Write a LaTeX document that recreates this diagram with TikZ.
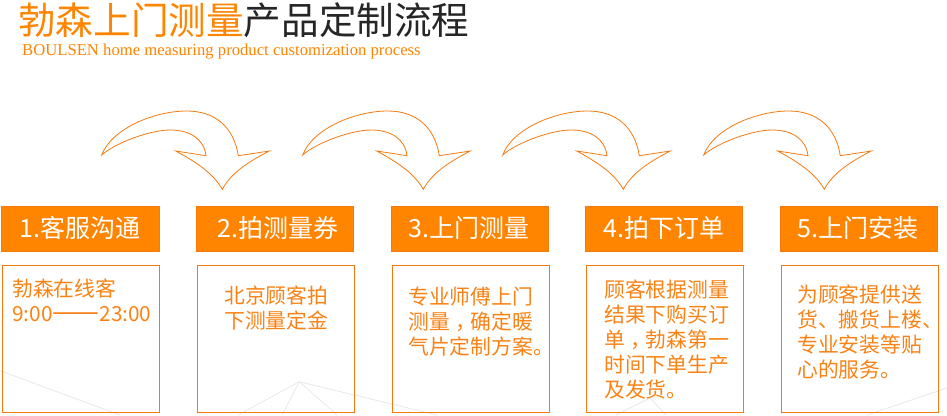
\documentclass[tikz,border=0pt]{standalone}
\usepackage{fontspec}
\setmainfont{Noto Sans CJK SC}
\newfontfamily\subfont{Liberation Serif}
\definecolor{boxorange}{HTML}{FF8400}
\definecolor{lineorange}{HTML}{F5790F}
\definecolor{textorange}{HTML}{FA8214}
\newcommand{\midcomma}{\kern6pt，\kern-6pt}
\tikzset{
  headbox/.style={draw=lineorange, fill=boxorange, text=white, minimum width=157.4pt,
    minimum height=44.7pt, inner sep=0pt, font=\fontsize{25}{30}\selectfont},
  bodybox/.style={draw=lineorange, line width=0.8pt, minimum width=157.2pt, minimum height=147pt,
    inner sep=0pt},
  bodytext/.style={anchor=north west, align=left, inner sep=0pt, text=textorange,
    font=\fontsize{20.8}{25}\selectfont},
  bgline/.style={black!10, line width=0.7pt}
}
\begin{document}
\begin{tikzpicture}[x=1pt, y=-1pt]
    \useasboundingbox (0, 0) rectangle (947, 415);

    % faint lines behind the boxes
    \coordinate (hubA) at (299.3, 381.7);
    \coordinate (hubB) at (650, 398);
    \draw[bgline] (0, 370.7) -- (120, 415);
    \draw[bgline] (hubA) -- (238, 415);
    \draw[bgline] (hubA) -- (282, 415);
    \draw[bgline] (hubA) -- (337, 415);
    \draw[bgline] (hubA) -- (437, 415);
    \draw[bgline] (hubB) -- (616, 415);
    \draw[bgline] (hubB) -- (666, 415);
    \draw[bgline] (947, 388) -- (867, 415);

    % title
    \node[anchor=west, inner sep=0pt, font=\fontsize{37.6}{40}\selectfont] (title) at (18, 20)
      {\textcolor{boxorange}{勃森上门测量}\textcolor{black!85}{产品定制流程}};
    \node[anchor=west, inner sep=0pt, text=boxorange, font=\subfont\fontsize{16.66}{18}\selectfont]
      (subtitle) at (22, 52) {BOULSEN home measuring product customization process};

    % curved arrows
    \foreach \dx in {0, 201, 401, 602} {
      \draw[lineorange, line width=0.8pt, xshift=\dx pt, line join=miter] (101.7, 155)
        .. controls (112, 128) and (155, 111) .. (186.7, 111)
        .. controls (216, 111) and (234, 128) .. (238.3, 155.7)
        -- (269.3, 151)
        .. controls (248, 162) and (231, 173) .. (222.3, 189.3)
        .. controls (213, 173) and (196, 162) .. (175.7, 151)
        -- (206, 155.7)
        .. controls (204, 139) and (190, 130) .. (170, 130)
        .. controls (150, 130) and (115, 143) .. cycle;
    }

    % orange heads
    \node[headbox] (headA) at (80, 228.4) {1.客服沟通};
    \node[headbox] (headB) at (274.9, 228.4) {\hspace*{6pt}2.拍测量券};
    \node[headbox] (headC) at (469.9, 228.4) {3.上门测量\hspace*{2pt}};
    \node[headbox] (headD) at (663.9, 228.4) {4.拍下订单};
    \node[headbox] (headE) at (858.9, 228.4) {5.上门安装\hspace*{2pt}};

    % boxes below
    \node[bodybox] (bodyA) at (80.9, 338.8) {};
    \node[bodybox] (bodyB) at (275.9, 338.8) {};
    \node[bodybox] (bodyC) at (470.9, 338.8) {};
    \node[bodybox] (bodyD) at (664.9, 338.8) {};
    \node[bodybox] (bodyE) at (859.9, 338.8) {};

    % texts in the boxes
    \node[bodytext] (textA) at (12, 279) {勃森在线客\\9:00{\fontsize{28}{25}\selectfont ——}23:00};
    \node[bodytext] (textB) at (224, 286) {北京顾客拍\\下测量定金};
    \node[bodytext] (textC) at (408, 287) {专业师傅上门\\测量\midcomma 确定暖\\气片定制方案。};
    \node[bodytext] (textD) at (604, 279.5) {顾客根据测量\\结果下购买订\\单\midcomma 勃森第一\\时间下单生产\\及发货。};
    \node[bodytext] (textE) at (797, 285) {为顾客提供送\\货、搬货上楼、\\专业安装等贴\\心的服务。};
\end{tikzpicture}
\end{document}
